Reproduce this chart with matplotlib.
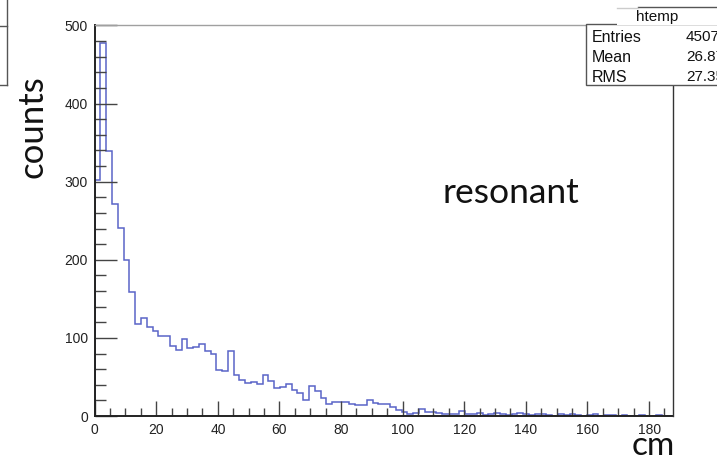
import numpy as np
import matplotlib
matplotlib.use("Agg")
import matplotlib.pyplot as plt
from matplotlib.patches import Rectangle
from matplotlib.lines import Line2D
from matplotlib.ticker import MultipleLocator

# ---- data ----
bin_lo, bin_hi, n_bins = 0.0, 188.0, 100
counts = [302, 478, 339, 272, 241, 200, 159, 118, 125, 114,
          109, 103, 103, 90, 84, 98, 87, 88, 92, 83,
          79, 59, 57, 83, 53, 46, 42, 44, 41, 53,
          45, 36, 37, 41, 33, 30, 20, 38, 32, 23,
          16, 18, 18, 18, 15, 14, 14, 21, 17, 16,
          15, 12, 8, 5, 3, 4, 9, 5, 5, 4,
          2, 3, 3, 6, 2, 3, 4, 1, 3, 4,
          2, 1, 3, 4, 2, 1, 3, 2, 1, 0,
          2, 1, 2, 1, 0, 1, 2, 0, 1, 1,
          0, 1, 0, 0, 1, 0, 0, 1, 0, 0]
stat_names = ["Entries", "Mean", "RMS"]
stat_values = ["4507", "26.87", "27.35"]
hist_name = "htemp"
x_label = "cm"
y_label = "counts"
annotation = "resonant"

W, H = 717, 463
fig = plt.figure(figsize=(W / 100, H / 100), dpi=100)

def fx(x):
    return x / W

def fy(y):
    return 1 - y / H

ax_l, ax_r, ax_t, ax_b = 94.7, 672.5, 24.7, 416.0
ax = fig.add_axes([fx(ax_l), fy(ax_b), (ax_r - ax_l) / W, (ax_b - ax_t) / H])

edges = np.linspace(bin_lo, bin_hi, n_bins + 1)
ax.stairs(counts, edges, color="#5a64c8", linewidth=1.1, baseline=0)

ax.set_xlim(0, 187.6)
ax.set_ylim(0, 501)

ax.xaxis.set_major_locator(MultipleLocator(20))
ax.xaxis.set_minor_locator(MultipleLocator(5))
ax.yaxis.set_major_locator(MultipleLocator(100))
ax.yaxis.set_minor_locator(MultipleLocator(20))

tick_col = "#444444"
ax.tick_params(axis="both", which="both", direction="in", colors=tick_col,
               top=False, right=False, labelcolor="#222222")
ax.tick_params(axis="x", which="major", length=11, width=1.0, pad=5)
ax.tick_params(axis="x", which="minor", length=6, width=1.0)
ax.tick_params(axis="y", which="major", length=16, width=1.0, pad=5)
ax.tick_params(axis="y", which="minor", length=8, width=1.0)

for lab in ax.get_xticklabels() + ax.get_yticklabels():
    lab.set_fontfamily("Liberation Sans")
    lab.set_fontsize(10)

ax.spines["left"].set_color("#222222")
ax.spines["left"].set_linewidth(1.4)
ax.spines["bottom"].set_color("#222222")
ax.spines["bottom"].set_linewidth(1.4)
ax.spines["top"].set_color("#a0a0a0")
ax.spines["top"].set_linewidth(1.0)
ax.spines["right"].set_color("#333333")
ax.spines["right"].set_linewidth(1.0)

# big labels
big_font = "Lato"
fig.text(fx(32), fy(127), y_label, rotation=90, ha="center", va="center",
         fontsize=25, family=big_font, color="#111111")
fig.text(fx(653), fy(446), x_label, ha="center", va="center",
         fontsize=24, family=big_font, color="#111111")
fig.text(fx(442), fy(193), annotation, ha="left", va="center",
         fontsize=25.5, family=big_font, color="#111111")

# stats box
box_l, box_t, box_b = 586, 24.5, 85
fig.patches.append(Rectangle((fx(box_l), fy(box_b)), fx(W + 5 - box_l), (box_b - box_t) / H,
                             transform=fig.transFigure, facecolor="white",
                             edgecolor="#555555", linewidth=1.0, zorder=5))
fig.patches.append(Rectangle((fx(617), fy(box_t)), fx(W + 5 - 617), (box_t - 6.5) / H,
                             transform=fig.transFigure, facecolor="white",
                             edgecolor="none", zorder=5))
fig.lines.append(Line2D([fx(638), fx(W)], [fy(6.5), fy(6.5)], transform=fig.transFigure,
                        color="#555555", linewidth=1.0, zorder=6))
fig.lines.append(Line2D([fx(617), fx(638)], [fy(7.5), fy(7.5)], transform=fig.transFigure,
                        color="#cccccc", linewidth=1.0, zorder=6))
fig.text(fx(657), fy(17), hist_name, ha="center", va="center", fontsize=11,
         family="Liberation Sans", color="#111111", zorder=7)
row_y = [37, 57, 77]
for name, val, yy in zip(stat_names, stat_values, row_y):
    fig.text(fx(592), fy(yy), name, ha="left", va="center", fontsize=11.5,
             family="Liberation Sans", color="#111111", zorder=7)
    fig.text(fx(686), fy(yy), val, ha="left", va="center", fontsize=11,
             family="Liberation Sans", color="#111111", zorder=7)

# cut-off box at top-left corner
for xs, ys in [([7, 7], [0, 85]), ([0, 7], [26, 26]), ([0, 7], [85, 85])]:
    fig.lines.append(Line2D([fx(v) for v in xs], [fy(v) for v in ys],
                            transform=fig.transFigure, color="#555555", linewidth=1.0))

fig.savefig("out.png", dpi=100)
